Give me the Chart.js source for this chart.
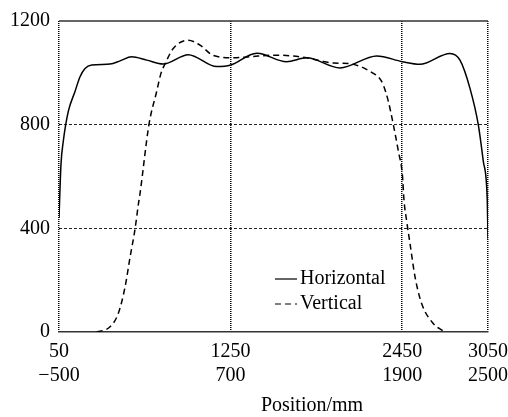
<!DOCTYPE html>
<html>
<head>
<meta charset="utf-8">
<script src="https://cdn.jsdelivr.net/npm/chart.js@4.4.0/dist/chart.umd.min.js"></script>
<style>
    html, body { margin: 0; padding: 0; background: #fff; }
    #wrap { width: 508px; height: 417px; }
</style>
</head>
<body>
<div id="wrap"><canvas id="chart"></canvas></div>
<script>
// top scale (Horizontal), position in mm
const horizX = [50, 64, 80, 115, 162, 197, 232, 279, 407, 477, 558, 663, 779, 954, 1153, 1251,
    1432, 1456, 1642, 1782, 2015, 2272, 2451, 2574, 2784, 2854, 2924, 2982, 3017, 3045, 3050];
const horizY = [440, 648, 736, 851, 928, 985, 1017, 1030, 1034, 1046, 1062, 1049, 1034, 1070, 1024, 1030,
    1076, 1075, 1043, 1058, 1019, 1065, 1043, 1033, 1075, 1049, 940, 800, 659, 506, 360];

// bottom scale (Vertical), position in mm
const vertX = [-236, -143, -85, -38, -3, 32, 55, 66, 129, 183, 213, 241, 299, 404, 486, 579, 719, 836,
    997, 1115, 1232, 1337, 1420, 1523, 1605, 1698, 1740, 1768, 1803, 1838, 1873, 1901, 1913, 1931,
    1955, 1990, 2036, 2117, 2187];
const vertY = [0, 20, 72, 174, 289, 398, 493, 532, 800, 928, 998, 1034, 1094, 1126, 1107, 1067, 1058, 1062,
    1068, 1066, 1058, 1045, 1038, 1036, 1025, 998, 980, 953, 890, 800, 698, 608, 506, 429,
    340, 212, 110, 33, 4];

const topTicks = [50, 1250, 2450, 3050];
const bottomTicks = [-500, 700, 1900, 2500];
const yTicks = [0, 400, 800, 1200];

const FONT = "'Liberation Serif', 'Times New Roman', serif";

const frame = {
    id: "frame",
    afterDraw(chart) {
        const { ctx, chartArea: a } = chart;
        ctx.save();
        ctx.strokeStyle = "#333";
        ctx.lineWidth = 1.5;
        ctx.beginPath();
        ctx.moveTo(a.left, a.top);
        ctx.lineTo(a.right, a.top);
        ctx.stroke();

        // legend
        ctx.fillStyle = "#000";
        ctx.strokeStyle = "#000";
        ctx.lineWidth = 1.2;
        ctx.font = "20px " + FONT;
        ctx.textBaseline = "middle";
        const lx = a.left + 216, ly = a.top + 258;
        ctx.beginPath();
        ctx.moveTo(lx, ly);
        ctx.lineTo(lx + 22, ly);
        ctx.stroke();
        ctx.fillText("Horizontal", lx + 25, ly);
        ctx.setLineDash([6, 4]);
        ctx.beginPath();
        ctx.moveTo(lx, ly + 25);
        ctx.lineTo(lx + 22, ly + 25);
        ctx.stroke();
        ctx.setLineDash([]);
        ctx.fillText("Vertical", lx + 25, ly + 25);

        // axis title
        ctx.textAlign = "center";
        ctx.fillText("Position/mm", 312, 406);
        ctx.restore();
    }
};

const plain = v => (v < 0 ? "\u2212" + Math.abs(v) : String(v));
const noSidePad = s => { s.paddingLeft = 0; s.paddingRight = 0; };

new Chart(document.getElementById("chart"), {
    type: "line",
    data: {
        datasets: [
            {
                label: "Horizontal",
                data: horizX.map((x, i) => ({ x, y: horizY[i] })),
                xAxisID: "x",
                borderColor: "#000",
                borderWidth: 1.5,
                pointRadius: 0,
                cubicInterpolationMode: "monotone",
                fill: false
            },
            {
                label: "Vertical",
                data: vertX.map((x, i) => ({ x, y: vertY[i] })),
                xAxisID: "x2",
                borderColor: "#000",
                borderWidth: 1.5,
                borderDash: [6, 4],
                pointRadius: 0,
                cubicInterpolationMode: "monotone",
                fill: false
            }
        ]
    },
    options: {
        responsive: true,
        maintainAspectRatio: false,
        animation: false,
        layout: { padding: { left: 0, right: 20, top: 19, bottom: 0 } },
        plugins: { legend: { display: false }, tooltip: { enabled: false } },
        scales: {
            x: {
                type: "linear",
                position: "bottom",
                weight: 0,
                min: 50,
                max: 3050,
                afterBuildTicks: s => { s.ticks = topTicks.map(v => ({ value: v })); },
                afterFit: s => { s.height = 28; noSidePad(s); },
                grid: { color: "#000", lineWidth: 1.5, drawTicks: false },
                border: { display: true, color: "#333", width: 1.5, dash: [1, 1] },
                ticks: { color: "#000", padding: 8, maxRotation: 0, callback: plain, font: { family: FONT, size: 20 } }
            },
            x2: {
                type: "linear",
                position: "bottom",
                weight: 1,
                min: -500,
                max: 2500,
                afterBuildTicks: s => { s.ticks = bottomTicks.map(v => ({ value: v })); },
                afterFit: s => { s.height = 57; noSidePad(s); },
                grid: { display: false, drawTicks: false },
                border: { display: false },
                ticks: { color: "#000", padding: 4, maxRotation: 0, callback: plain, font: { family: FONT, size: 20 } }
            },
            y: {
                min: 0,
                max: 1200,
                afterBuildTicks: s => { s.ticks = yTicks.map(v => ({ value: v })); },
                afterFit: s => { s.width = 59; },
                grid: {
                    drawTicks: false,
                    color: c => (c.tick && (c.tick.value === 0 || c.tick.value === 1200) ? "rgba(0,0,0,0)" : "#222"),
                    lineWidth: 1
                },
                border: { display: false, dash: [3, 2] },
                ticks: { color: "#000", padding: 9, callback: plain, font: { family: FONT, size: 20 } }
            }
        }
    },
    plugins: [frame]
});
</script>
</body>
</html>
